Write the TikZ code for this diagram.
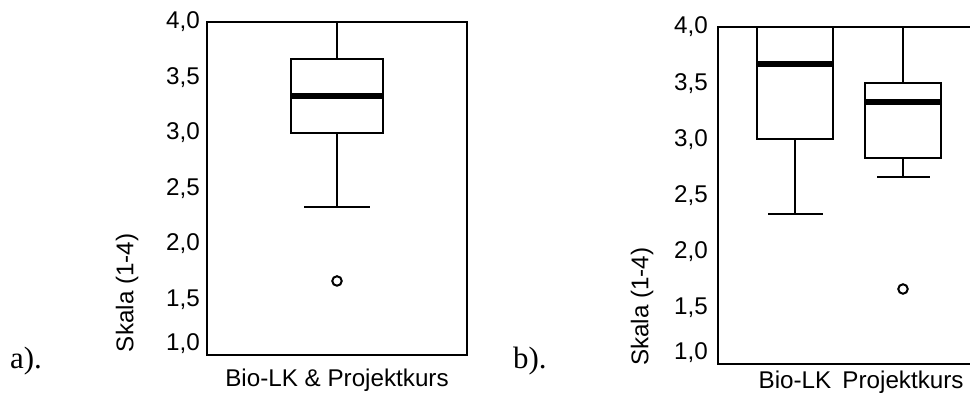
\documentclass[tikz,border=0pt]{standalone}
\usepackage{fontspec}
\setmainfont{Liberation Serif}
\setsansfont{Liberation Sans}
\usetikzlibrary{positioning}
\tikzstyle{axisframe} = [draw, line width=2bp]
\tikzstyle{boxline} = [draw, line width=2bp]
\tikzstyle{medline} = [draw, line width=6bp]
\tikzstyle{outlier} = [circle, draw, line width=2bp, inner sep=0pt, minimum size=9.5bp]
\tikzstyle{ticklabel} = [anchor=east, inner sep=0pt, font=\sffamily\fontsize{24.3}{28}\selectfont]
\tikzstyle{catlabel} = [anchor=base, inner sep=0pt, font=\sffamily\fontsize{24.3}{28}\selectfont]
\tikzstyle{axislabel} = [rotate=90, inner sep=0pt, font=\sffamily\fontsize{24.3}{28}\selectfont]
\tikzstyle{panel} = [anchor=base west, inner sep=0pt, font=\fontsize{31}{34}\selectfont]

\begin{document}
\begin{tikzpicture}[x=1bp, y=-1bp]
	\useasboundingbox (0,0) rectangle (970,393);
	\node [panel] (pa) at (10,368) {a).};
	\node [panel] (pb) at (513,368) {b).};

	% a) beide Gruppen zusammen
	\begin{scope}[y=111bp, yshift=-466bp]
		\path [axisframe] (207,1) rectangle (467,4);
		\foreach \v/\t in {4/{4,0}, 3.5/{3,5}, 3/{3,0}, 2.5/{2,5}, 2/{2,0}, 1.5/{1,5}, 1.1/{1,0}}
			\node [ticklabel] at (200,\v) {\t};
		\node [axislabel] (ya) at (127,1.56) {Skala (1-4)};
		\node [catlabel] (ca) at (337,0.72) {Bio-LK \& Projektkurs};

		\coordinate (ahi) at (337,4);
		\coordinate (aq3) at (337,3.667);
		\coordinate (aq1) at (337,3);
		\coordinate (alo) at (337,2.333);
		\node [outlier] (aout) at (337,1.667) {};
		\path [boxline] (291,3) rectangle (383,3.667);
		\path [medline] (291,3.333) -- (383,3.333);
		\path [boxline] (aq3) -- (ahi);
		\path [boxline] (aq1) -- (alo);
		\path [boxline] (304,4) -- (370,4);
		\path [boxline] (304,2.333) -- (370,2.333);
	\end{scope}

	% b) getrennt nach Kurs
	\begin{scope}[y=112.3bp, yshift=-476.2bp]
		\path [axisframe] (970,4) -- (718,4) -- (718,1) -- (970,1);
		\foreach \v/\t in {4/{4,0}, 3.5/{3,5}, 3/{3,0}, 2.5/{2,5}, 2/{2,0}, 1.5/{1,5}, 1.1/{1,0}}
			\node [ticklabel] at (708,\v) {\t};
		\node [axislabel] (yb) at (642,1.51) {Skala (1-4)};
		\node [catlabel] (cb1) at (795,0.785) {Bio-LK};
		\node [catlabel] (cb2) at (903,0.785) {Projektkurs};

		% Bio-LK
		\coordinate (bq1) at (795,3);
		\coordinate (blo) at (795,2.333);
		\path [boxline] (757,3) rectangle (833,4);
		\path [medline] (757,3.667) -- (833,3.667);
		\path [boxline] (bq1) -- (blo);
		\path [boxline] (768,2.333) -- (823,2.333);

		% Projektkurs
		\coordinate (phi) at (903,4);
		\coordinate (pq3) at (903,3.5);
		\coordinate (pq1) at (903,2.833);
		\coordinate (plo) at (903,2.667);
		\node [outlier] (pout) at (903,1.667) {};
		\path [boxline] (865,2.833) rectangle (941,3.5);
		\path [medline] (865,3.333) -- (941,3.333);
		\path [boxline] (pq3) -- (phi);
		\path [boxline] (pq1) -- (plo);
		\path [boxline] (877,4) -- (930,4);
		\path [boxline] (877,2.667) -- (930,2.667);
	\end{scope}
\end{tikzpicture}
\end{document}
